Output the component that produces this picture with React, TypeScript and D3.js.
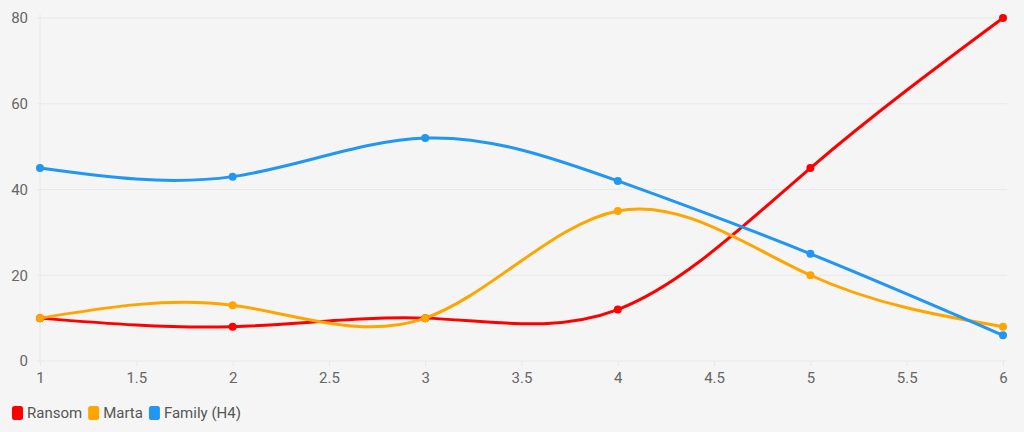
import React, { useEffect, useRef } from 'react';
import * as d3 from 'd3';

const xValues = [1, 2, 3, 4, 5, 6];
const ransom = [10, 8, 10, 12, 45, 80];
const marta = [10, 13, 10, 35, 20, 8];
const family = [45, 43, 52, 42, 25, 6];
const yTicks = [0, 20, 40, 60, 80];
const xTicks = [1, 1.5, 2, 2.5, 3, 3.5, 4, 4.5, 5, 5.5, 6];

const series = [
  { name: 'Ransom', values: ransom, color: '#ff0000' },
  { name: 'Marta', values: marta, color: '#ffa500' },
  { name: 'Family (H4)', values: family, color: '#2196f3' },
];

const W = 1024;
const H = 432;
const margin = { top: 18, right: 21, bottom: 71, left: 40 };

export default function App() {
  const svgRef = useRef<SVGSVGElement>(null);

  useEffect(() => {
    const svg = d3.select(svgRef.current);
    svg.selectAll('*').remove();

    const x = d3.scaleLinear().domain([1, 6]).range([margin.left, W - margin.right]);
    const y = d3.scaleLinear().domain([0, 80]).range([H - margin.bottom, margin.top]);

    svg.append('rect').attr('width', W).attr('height', H).attr('fill', '#f5f5f5');

    // grid
    const grid = svg.append('g');
    grid
      .selectAll('line')
      .data(yTicks)
      .join('line')
      .attr('x1', margin.left - 3)
      .attr('x2', W - margin.right + 4)
      .attr('y1', (d) => y(d))
      .attr('y2', (d) => y(d))
      .attr('stroke', '#e9e9e9')
      .attr('stroke-width', 1);
    grid
      .append('line')
      .attr('x1', margin.left)
      .attr('x2', margin.left)
      .attr('y1', margin.top - 4)
      .attr('y2', H - margin.bottom)
      .attr('stroke', '#e9e9e9');

    const font = "Roboto, 'Noto Sans', sans-serif";

    const yAxis = d3.axisLeft(y).tickValues(yTicks).tickSize(0).tickPadding(12);
    svg
      .append('g')
      .attr('transform', `translate(${margin.left},0)`)
      .call(yAxis)
      .call((g) => g.select('.domain').remove())
      .call((g) =>
        g
          .selectAll('text')
          .attr('fill', '#666')
          .style('font-family', font)
          .style('font-size', '15px')
      );

    const xAxis = d3
      .axisBottom(x)
      .tickValues(xTicks)
      .tickSize(5)
      .tickPadding(6)
      .tickFormat((d) => String(d));
    svg
      .append('g')
      .attr('transform', `translate(0,${H - margin.bottom})`)
      .call(xAxis)
      .call((g) => g.select('.domain').remove())
      .call((g) => g.selectAll('.tick line').attr('stroke', '#e9e9e9'))
      .call((g) =>
        g
          .selectAll('text')
          .attr('fill', '#666')
          .style('font-family', font)
          .style('font-size', '15px')
      );

    const line = d3
      .line<number>()
      .x((_, i) => x(xValues[i]))
      .y((d) => y(d))
      .curve(d3.curveNatural);

    series.forEach((s) => {
      svg
        .append('path')
        .datum(s.values)
        .attr('d', line)
        .attr('fill', 'none')
        .attr('stroke', s.color)
        .attr('stroke-width', 3);
    });
    series.forEach((s) => {
      svg
        .append('g')
        .selectAll('circle')
        .data(s.values)
        .join('circle')
        .attr('cx', (_, i) => x(xValues[i]))
        .attr('cy', (d) => y(d))
        .attr('r', 4)
        .attr('fill', s.color);
    });

    // legend
    const legend = svg.append('g').attr('transform', `translate(12,${H - 26})`);
    let lx = 0;
    series.forEach((s) => {
      const item = legend.append('g').attr('transform', `translate(${lx},0)`);
      item
        .append('rect')
        .attr('width', 11)
        .attr('height', 14)
        .attr('rx', 2.5)
        .attr('fill', s.color);
      const t = item
        .append('text')
        .attr('x', 15)
        .attr('y', 12)
        .attr('fill', '#555')
        .style('font-family', font)
        .style('font-size', '15px')
        .text(s.name);
      const tw = (t.node() as SVGTextElement).getComputedTextLength();
      lx += 15 + tw + 6;
    });
  }, []);

  return (
    <div style={{ position: 'fixed', left: 0, top: 0, width: W, height: H }}>
      <svg ref={svgRef} width={W} height={H} style={{ display: 'block' }} />
    </div>
  );
}
